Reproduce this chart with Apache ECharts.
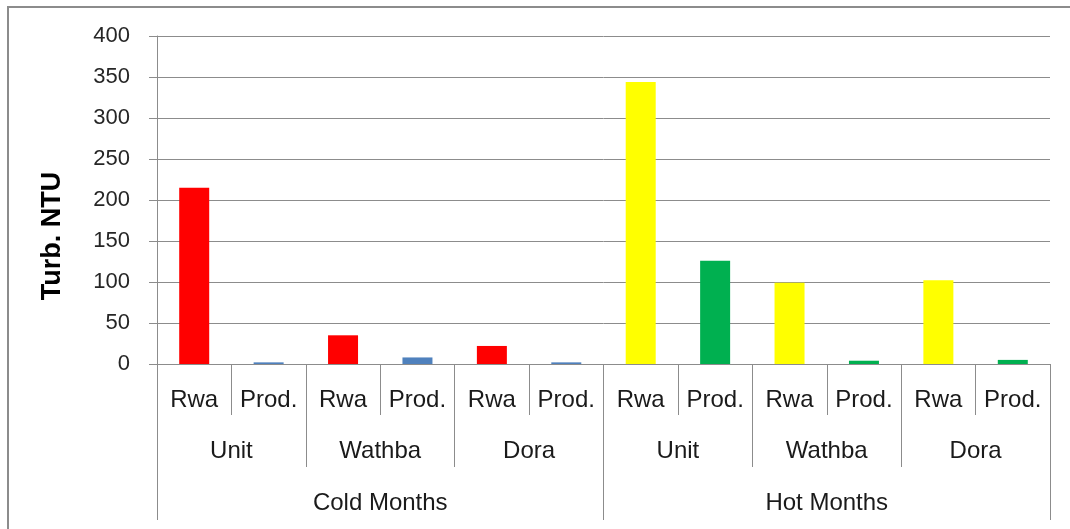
<!DOCTYPE html>
<html>
<head>
<meta charset="utf-8">
<script src="https://cdn.jsdelivr.net/npm/echarts@6/dist/echarts.min.js"></script>
<style>
  html, body { margin: 0; padding: 0; background: #fff; }
  .frame {
    position: absolute; left: 7px; top: 6px; width: 1070px; height: 540px;
    border-left: 2px solid #8c8c8c; border-top: 2px solid #8c8c8c;
  }
  #chart { position: absolute; left: 0; top: 0; width: 1070px; height: 529px; }
</style>
</head>
<body>
<div class="frame"></div>
<div id="chart"></div>
<script>
// bottom row: sample type
const sampleLabels = ['Rwa', 'Prod.', 'Rwa', 'Prod.', 'Rwa', 'Prod.', 'Rwa', 'Prod.', 'Rwa', 'Prod.', 'Rwa', 'Prod.']
// middle row: station
const stationLabels = ['Unit', 'Wathba', 'Dora', 'Unit', 'Wathba', 'Dora']
// top-level row: season
const seasonLabels = ['Cold Months', 'Hot Months']

// turbidity, NTU (one value per bottom category)
const turbValues = [215, 2, 35, 8, 22, 2, 344, 126, 99, 4, 102, 5]
const barColors = ['#ff0000', '#4f81bd', '#ff0000', '#4f81bd', '#ff0000', '#4f81bd',
  '#ffff00', '#00b050', '#ffff00', '#00b050', '#ffff00', '#00b050']

const yTicks = { min: 0, max: 400, interval: 50 }

const font = 'Liberation Sans, Arial, sans-serif'
const gridGray = '#8c8c8c'

function levelAxis (data, tickLen, margin, showLine) {
  return {
    type: 'category',
    position: 'bottom',
    offset: 0,
    data: data,
    boundaryGap: true,
    axisLine: { show: showLine, lineStyle: { color: gridGray, width: 1 } },
    axisTick: { show: true, interval: 0, length: tickLen, lineStyle: { color: gridGray } },
    axisLabel: { interval: 0, margin: margin, color: '#1a1a1a', fontSize: 24, fontFamily: font },
    splitLine: { show: false }
  }
}

const option = {
  animation: false,
  grid: { left: 157, right: 20, top: 36, bottom: 165, containLabel: false },
  xAxis: [
    levelAxis(sampleLabels, 51, 24, true),
    levelAxis(stationLabels, 103, 75, false),
    levelAxis(seasonLabels, 156, 127, false)
  ],
  yAxis: {
    type: 'value',
    min: yTicks.min,
    max: yTicks.max,
    interval: yTicks.interval,
    name: 'Turb. NTU',
    nameLocation: 'middle',
    nameGap: 91,
    nameTextStyle: {
      fontSize: 27, fontWeight: 'bold', color: '#000', fontFamily: font,
      padding: [0, 72, 0, 0]
    },
    axisLine: { show: true, lineStyle: { color: gridGray } },
    axisTick: { show: true, length: 8, lineStyle: { color: gridGray } },
    axisLabel: { margin: 27, fontSize: 22, color: '#262626', fontFamily: font },
    splitLine: { lineStyle: { color: gridGray, width: 1 } }
  },
  series: [
    {
      type: 'bar',
      xAxisIndex: 0,
      barWidth: 30,
      data: turbValues.map((v, i) => ({ value: v, itemStyle: { color: barColors[i] } }))
    }
  ]
}

const myChart = echarts.init(document.getElementById('chart'))
myChart.setOption(option)
</script>
</body>
</html>
